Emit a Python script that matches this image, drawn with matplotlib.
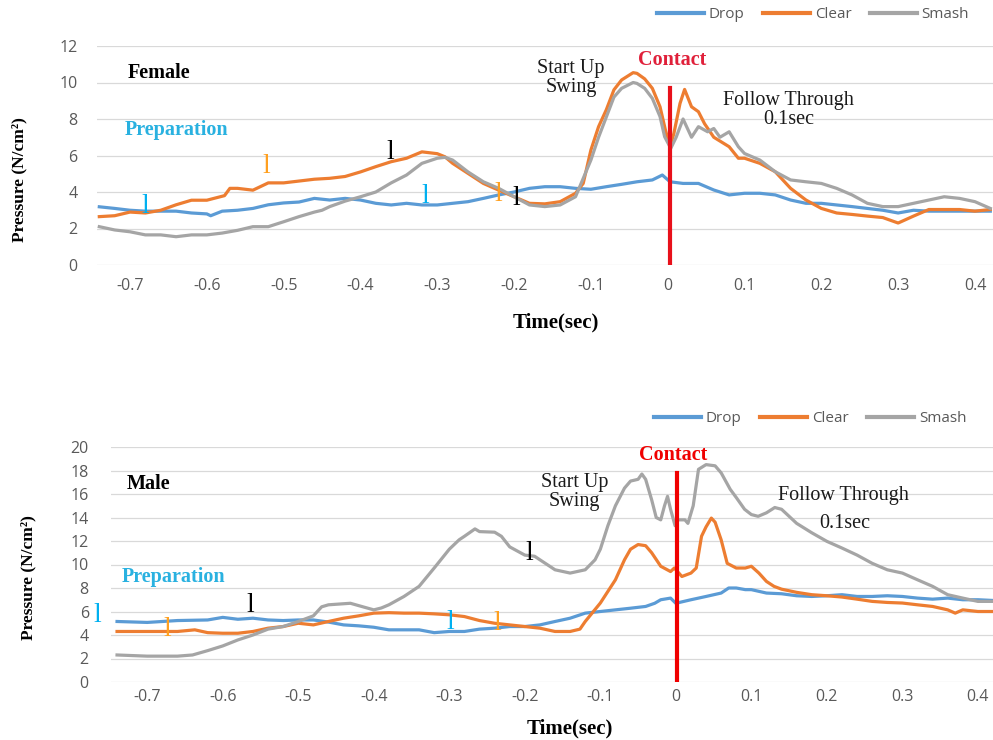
import matplotlib
matplotlib.use("Agg")
import matplotlib.pyplot as plt
from matplotlib.lines import Line2D

plt.rcParams['axes.unicode_minus'] = False

# ---------------- DATA ----------------
x_ticks = [-0.7, -0.6, -0.5, -0.4, -0.3, -0.2, -0.1, 0.0, 0.1, 0.2, 0.3, 0.4]
x_tick_labels = ["-0.7", "-0.6", "-0.5", "-0.4", "-0.3", "-0.2", "-0.1", "0", "0.1", "0.2", "0.3", "0.4"]
female_y_ticks = [0, 2, 4, 6, 8, 10, 12]
male_y_ticks = [0, 2, 4, 6, 8, 10, 12, 14, 16, 18, 20]
series_names = ["Drop", "Clear", "Smash"]

# Female
f_drop_t = [-0.74, -0.72, -0.70, -0.68, -0.66, -0.64, -0.62, -0.60, -0.595, -0.58, -0.56, -0.54, -0.52, -0.50,
            -0.48, -0.46, -0.44, -0.42, -0.40, -0.38, -0.36, -0.34, -0.32, -0.30, -0.28, -0.26, -0.24, -0.22,
            -0.20, -0.18, -0.16, -0.14, -0.12, -0.10, -0.08, -0.06, -0.04, -0.02, -0.007, 0.003, 0.02, 0.04,
            0.06, 0.08, 0.10, 0.12, 0.14, 0.16, 0.18, 0.20, 0.22, 0.24, 0.26, 0.28, 0.30, 0.32, 0.34, 0.36,
            0.38, 0.40, 0.42]
f_drop_v = [3.19, 3.10, 3.00, 2.95, 2.95, 2.95, 2.85, 2.80, 2.70, 2.95, 3.00, 3.10, 3.30, 3.40,
            3.45, 3.65, 3.56, 3.65, 3.56, 3.38, 3.29, 3.38, 3.29, 3.29, 3.38, 3.47, 3.65, 3.84,
            4.00, 4.20, 4.29, 4.29, 4.20, 4.15, 4.29, 4.42, 4.56, 4.66, 4.93, 4.56, 4.47, 4.47,
            4.11, 3.84, 3.93, 3.93, 3.84, 3.56, 3.38, 3.38, 3.29, 3.20, 3.10, 3.00, 2.85, 3.00, 2.95, 2.95,
            2.95, 2.95, 2.95]

f_clear_t = [-0.74, -0.72, -0.70, -0.68, -0.66, -0.64, -0.62, -0.60, -0.577, -0.570, -0.56, -0.54, -0.52,
             -0.50, -0.48, -0.46, -0.44, -0.42, -0.40, -0.38, -0.36, -0.34, -0.32, -0.30, -0.29, -0.28,
             -0.26, -0.24, -0.22, -0.20, -0.18, -0.16, -0.14, -0.12, -0.11, -0.10, -0.09, -0.08, -0.07,
             -0.06, -0.045, -0.04, -0.03, -0.02, -0.01, -0.003, 0.003, 0.008, 0.016, 0.022, 0.031, 0.04,
             0.048, 0.06, 0.08, 0.092, 0.10, 0.12, 0.14, 0.16, 0.18, 0.20, 0.22, 0.24, 0.26, 0.28, 0.30,
             0.32, 0.34, 0.36, 0.38, 0.40, 0.42]
f_clear_v = [2.65, 2.70, 2.90, 2.85, 3.00, 3.30, 3.55, 3.55, 3.80, 4.20, 4.20, 4.10, 4.50,
             4.50, 4.60, 4.70, 4.75, 4.85, 5.10, 5.39, 5.66, 5.85, 6.20, 6.10, 5.93, 5.57,
             5.02, 4.47, 4.10, 3.74, 3.38, 3.35, 3.47, 3.93, 4.47, 6.30, 7.58, 8.50, 9.60,
             10.14, 10.54, 10.50, 10.20, 9.68, 8.67, 7.40, 6.48, 7.20, 8.85, 9.62, 8.67, 8.40,
             7.74, 7.00, 6.48, 5.85, 5.85, 5.57, 5.11, 4.20, 3.56, 3.10, 2.85, 2.77, 2.68, 2.60, 2.30,
             2.68, 3.04, 3.04, 3.04, 2.95, 3.04]

f_smash_t = [-0.74, -0.72, -0.70, -0.68, -0.66, -0.64, -0.62, -0.60, -0.58, -0.56, -0.54, -0.52, -0.50,
             -0.48, -0.46, -0.45, -0.44, -0.42, -0.40, -0.38, -0.36, -0.34, -0.32, -0.30, -0.29, -0.28,
             -0.26, -0.24, -0.22, -0.20, -0.18, -0.16, -0.14, -0.12, -0.10, -0.09, -0.08, -0.07, -0.06,
             -0.045, -0.04, -0.03, -0.02, -0.01, -0.004, 0.004, 0.011, 0.02, 0.031, 0.04, 0.052, 0.06,
             0.068, 0.08, 0.092, 0.10, 0.12, 0.14, 0.16, 0.18, 0.20, 0.22, 0.24, 0.26, 0.28, 0.30, 0.32,
             0.34, 0.36, 0.38, 0.40, 0.42]
f_smash_v = [2.10, 1.92, 1.82, 1.65, 1.65, 1.55, 1.65, 1.65, 1.75, 1.90, 2.10, 2.10, 2.37,
             2.65, 2.90, 3.00, 3.20, 3.50, 3.74, 4.00, 4.50, 4.93, 5.57, 5.85, 5.90, 5.75,
             5.10, 4.56, 4.20, 3.74, 3.29, 3.20, 3.29, 3.74, 5.75, 7.00, 8.10, 9.20, 9.68,
             10.00, 9.95, 9.68, 9.13, 8.13, 7.03, 6.39, 7.00, 8.00, 7.00, 7.58, 7.30, 7.48,
             7.00, 7.30, 6.48, 6.11, 5.75, 5.11, 4.66, 4.56, 4.47, 4.20, 3.84, 3.38, 3.20, 3.20, 3.38,
             3.56, 3.74, 3.65, 3.47, 3.10]

# Male
m_drop_t = [-0.74, -0.70, -0.66, -0.62, -0.60, -0.58, -0.56, -0.54, -0.52, -0.50, -0.48, -0.46, -0.44,
            -0.42, -0.40, -0.38, -0.36, -0.34, -0.32, -0.30, -0.28, -0.26, -0.24, -0.22, -0.20, -0.18,
            -0.16, -0.14, -0.12, -0.10, -0.08, -0.06, -0.04, -0.028, -0.02, -0.007, 0.0, 0.02, 0.04, 0.06,
            0.07, 0.08, 0.092, 0.10, 0.12, 0.14, 0.16, 0.18, 0.20, 0.22, 0.24, 0.26, 0.28, 0.30, 0.32,
            0.34, 0.36, 0.38, 0.40, 0.42]
m_drop_v = [5.15, 5.07, 5.23, 5.28, 5.50, 5.34, 5.43, 5.28, 5.23, 5.28, 5.28, 5.10, 4.86,
            4.78, 4.66, 4.44, 4.44, 4.44, 4.20, 4.30, 4.30, 4.50, 4.58, 4.72, 4.72, 4.86,
            5.15, 5.43, 5.86, 6.00, 6.14, 6.28, 6.43, 6.70, 7.00, 7.14, 6.70, 7.00, 7.28, 7.57,
            8.00, 8.00, 7.86, 7.86, 7.57, 7.51, 7.34, 7.28, 7.34, 7.43, 7.28, 7.28, 7.34, 7.28, 7.14,
            7.05, 7.14, 7.00, 7.00, 6.94]

m_clear_t = [-0.74, -0.70, -0.66, -0.637, -0.62, -0.60, -0.58, -0.56, -0.54, -0.52, -0.50, -0.48, -0.46,
             -0.44, -0.42, -0.40, -0.38, -0.36, -0.34, -0.32, -0.30, -0.28, -0.26, -0.24, -0.22, -0.20,
             -0.18, -0.17, -0.16, -0.14, -0.127, -0.12, -0.10, -0.08, -0.068, -0.06, -0.05, -0.04, -0.032,
             -0.02, -0.007, -0.002, 0.008, 0.02, 0.027, 0.034, 0.04, 0.047, 0.052, 0.06, 0.068, 0.08,
             0.092, 0.10, 0.11, 0.12, 0.13, 0.14, 0.16, 0.18, 0.20, 0.22, 0.24, 0.26, 0.28, 0.30, 0.32,
             0.34, 0.36, 0.37, 0.38, 0.40, 0.42]
m_clear_v = [4.30, 4.30, 4.30, 4.44, 4.20, 4.15, 4.15, 4.30, 4.58, 4.72, 5.00, 4.86, 5.15,
             5.43, 5.63, 5.86, 5.90, 5.86, 5.86, 5.80, 5.72, 5.57, 5.23, 5.00, 4.86, 4.72,
             4.58, 4.44, 4.30, 4.30, 4.50, 5.15, 6.72, 8.70, 10.40, 11.30, 11.70, 11.60, 11.00,
             9.85, 9.40, 9.70, 8.98, 9.27, 9.70, 12.40, 13.20, 13.95, 13.60, 12.10, 10.10, 9.70,
             9.70, 9.85, 9.27, 8.56, 8.14, 7.90, 7.63, 7.43, 7.34, 7.23, 7.05, 6.86, 6.77, 6.72, 6.57,
             6.43, 6.14, 5.86, 6.14, 6.00, 6.00]

m_smash_t = [-0.74, -0.72, -0.70, -0.68, -0.66, -0.64, -0.62, -0.60, -0.58, -0.56, -0.54, -0.52, -0.50,
             -0.48, -0.469, -0.46, -0.44, -0.431, -0.42, -0.40, -0.39, -0.38, -0.36, -0.34, -0.32, -0.30,
             -0.287, -0.28, -0.266, -0.26, -0.24, -0.231, -0.22, -0.20, -0.187, -0.18, -0.167, -0.16,
             -0.14, -0.12, -0.107, -0.10, -0.09, -0.08, -0.068, -0.06, -0.05, -0.045, -0.04, -0.032,
             -0.026, -0.02, -0.015, -0.011, -0.007, -0.001, 0.003, 0.012, 0.016, 0.023, 0.03, 0.04,
             0.052, 0.06, 0.072, 0.08, 0.091, 0.10, 0.109, 0.12, 0.131, 0.14, 0.16, 0.18, 0.20, 0.22,
             0.24, 0.26, 0.28, 0.30, 0.32, 0.34, 0.36, 0.38, 0.40, 0.42]
m_smash_v = [2.30, 2.25, 2.20, 2.20, 2.20, 2.30, 2.67, 3.07, 3.58, 4.00, 4.50, 4.72, 5.15,
             5.63, 6.40, 6.57, 6.66, 6.70, 6.50, 6.14, 6.30, 6.57, 7.28, 8.14, 9.70, 11.30,
             12.10, 12.40, 13.03, 12.80, 12.75, 12.40, 11.50, 10.80, 10.70, 10.40, 9.85, 9.55,
             9.27, 9.55, 10.40, 11.30, 13.30, 15.00, 16.50, 17.10, 17.25, 17.70, 17.25, 15.50,
             14.00, 13.80, 15.00, 15.80, 14.70, 13.30, 13.80, 13.80, 13.50, 15.00, 18.10, 18.50,
             18.40, 17.80, 16.40, 15.70, 14.70, 14.25, 14.10, 14.40, 14.85, 14.70, 13.50, 12.70, 11.97, 11.40,
             10.80, 10.10, 9.55, 9.27, 8.70, 8.14, 7.43, 7.14, 6.86, 6.86]

# phase-marker glyph positions (time, pressure)
f_mark_t = [-0.680, -0.522, -0.361, -0.315, -0.220, -0.197]
f_mark_v = [3.18, 5.42, 6.14, 3.73, 3.89, 3.67]
m_mark_t = [-0.766, -0.674, -0.563, -0.299, -0.236, -0.194]
m_mark_v = [5.70, 4.43, 6.55, 5.10, 5.00, 10.90]
mark_colors = ["#00B0F0", "#FFA020", "#000000", "#00B0F0", "#FFA020", "#000000"]

# ---------------- STYLE ----------------
COL = {"Drop": "#5B9BD5", "Clear": "#ED7D31", "Smash": "#A5A5A5"}
SERIF = "Liberation Serif"
TICKFONT = "Open Sans"
TICKCOL = "#595959"
LW = 2.3

fig = plt.figure(figsize=(9.93, 7.40), dpi=100)
W, H = 993.0, 740.0

ax1 = fig.add_axes([97 / W, 1 - 265 / H, 896 / W, 219 / H])
ax2 = fig.add_axes([111 / W, 1 - 682 / H, 882 / W, 235 / H])


def style_axes(ax, yticks, xlim, ytop, ypad, xpad):
    ax.set_xlim(*xlim)
    ax.set_ylim(0, ytop)
    ax.set_yticks(yticks)
    ax.set_yticklabels([str(v) for v in yticks])
    ax.set_xticks(x_ticks)
    ax.set_xticklabels(x_tick_labels)
    for s in ax.spines.values():
        s.set_visible(False)
    ax.grid(axis="y", color="#D9D9D9", lw=0.9)
    ax.grid(axis="x", visible=False)
    ax.set_axisbelow(True)
    ax.tick_params(axis="both", length=0, labelsize=11.5, labelcolor=TICKCOL)
    ax.tick_params(axis="y", pad=ypad)
    ax.tick_params(axis="x", pad=xpad)
    for lab in ax.get_xticklabels() + ax.get_yticklabels():
        lab.set_fontfamily(TICKFONT)


style_axes(ax1, female_y_ticks, (-0.743, 0.4235), 12, 14, 9)
style_axes(ax2, male_y_ticks, (-0.748, 0.42), 20, 16, 5)

ax1.plot(f_drop_t, f_drop_v, color=COL["Drop"], lw=LW, solid_joinstyle="round")
ax1.plot(f_clear_t, f_clear_v, color=COL["Clear"], lw=LW, solid_joinstyle="round")
ax1.plot(f_smash_t, f_smash_v, color=COL["Smash"], lw=LW, solid_joinstyle="round")

ax2.plot(m_drop_t, m_drop_v, color=COL["Drop"], lw=LW, solid_joinstyle="round")
ax2.plot(m_clear_t, m_clear_v, color=COL["Clear"], lw=LW, solid_joinstyle="round")
ax2.plot(m_smash_t, m_smash_v, color=COL["Smash"], lw=LW, solid_joinstyle="round")

# contact lines
ax1.plot([0.0026, 0.0026], [0, 9.7], color="#E8101A", lw=3.0)
ax2.plot([0.0013, 0.0013], [0, 17.8], color="#F00000", lw=3.0)

# phase markers
for t, v, c in zip(f_mark_t, f_mark_v, mark_colors):
    ax1.text(t, v, "l", color=c, fontsize=20, family=SERIF, ha="center", va="center", clip_on=False)
for t, v, c in zip(m_mark_t, m_mark_v, mark_colors):
    ax2.text(t, v, "l", color=c, fontsize=20, family=SERIF, ha="center", va="center", clip_on=False)

FS = 14.5
# Female annotations
ax1.text(-0.703, 10.52, "Female", family=SERIF, fontsize=FS, weight="bold", color="#000000", ha="left", va="center")
ax1.text(-0.707, 7.40, "Preparation", family=SERIF, fontsize=FS, weight="bold", color="#29B1E0", ha="left", va="center")
ax1.text(-0.1257, 10.79, "Start Up", family=SERIF, fontsize=FS, color="#1A1A1A", ha="center", va="center")
ax1.text(-0.1257, 9.75, "Swing", family=SERIF, fontsize=FS, color="#1A1A1A", ha="center", va="center")
ax1.text(0.006, 11.23, "Contact", family=SERIF, fontsize=FS, weight="bold", color="#E0203A", ha="center", va="center")
ax1.text(0.1576, 9.04, "Follow Through", family=SERIF, fontsize=FS, color="#1A1A1A", ha="center", va="center")
ax1.text(0.1576, 7.95, "0.1sec", family=SERIF, fontsize=FS, color="#1A1A1A", ha="center", va="center")

# Male annotations
ax2.text(-0.727, 16.85, "Male", family=SERIF, fontsize=FS, weight="bold", color="#000000", ha="left", va="center")
ax2.text(-0.734, 8.94, "Preparation", family=SERIF, fontsize=FS, weight="bold", color="#29B1E0", ha="left", va="center")
ax2.text(-0.134, 16.94, "Start Up", family=SERIF, fontsize=FS, color="#1A1A1A", ha="center", va="center")
ax2.text(-0.134, 15.32, "Swing", family=SERIF, fontsize=FS, color="#1A1A1A", ha="center", va="center")
ax2.text(-0.004, 19.32, "Contact", family=SERIF, fontsize=FS, weight="bold", color="#F00000", ha="center", va="center")
ax2.text(0.2225, 15.91, "Follow Through", family=SERIF, fontsize=FS, color="#1A1A1A", ha="center", va="center")
ax2.text(0.224, 13.45, "0.1sec", family=SERIF, fontsize=FS, color="#1A1A1A", ha="center", va="center")

# axis labels
fig.text(19 / W, 1 - 180 / H, "Pressure (N/cm²)", family=SERIF, fontsize=12.5, weight="bold",
         rotation=90, ha="center", va="center")
fig.text(28 / W, 1 - 578 / H, "Pressure (N/cm²)", family=SERIF, fontsize=12.5, weight="bold",
         rotation=90, ha="center", va="center")
fig.text(556 / W, 1 - 322 / H, "Time(sec)", family=SERIF, fontsize=15, weight="bold", ha="center", va="center")
fig.text(570 / W, 1 - 728 / H, "Time(sec)", family=SERIF, fontsize=15, weight="bold", ha="center", va="center")

# legends
handles = [Line2D([0], [0], color=COL[n], lw=3) for n in series_names]
for (cx, cy) in [(813, 15), (810, 419)]:
    leg = fig.legend(handles, series_names, loc="center", bbox_to_anchor=(cx / W, 1 - cy / H),
                     ncol=3, frameon=False, handlelength=3.1, handletextpad=0.3, columnspacing=1.2,
                     prop={"family": TICKFONT, "size": 11})
    for txt in leg.get_texts():
        txt.set_color(TICKCOL)

fig.savefig("out.png", dpi=100)
